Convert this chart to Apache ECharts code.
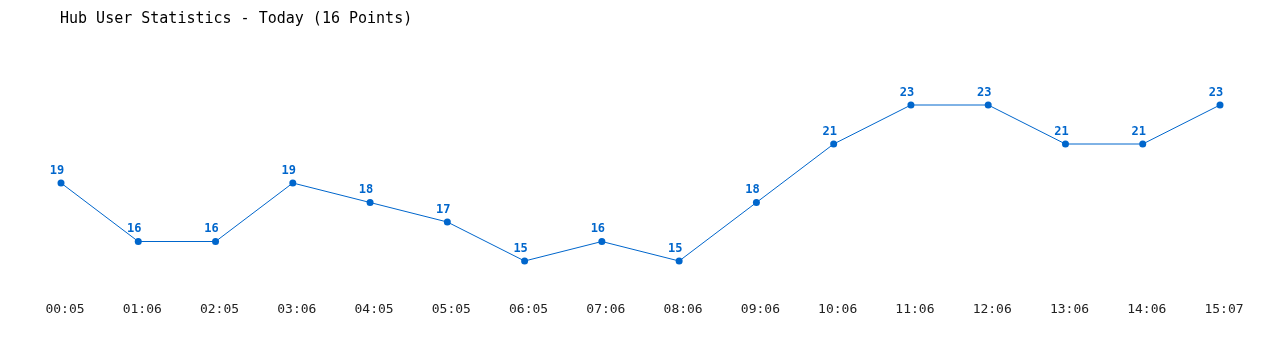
<!DOCTYPE html>
<html><head><meta charset="utf-8">
<script src="https://cdn.jsdelivr.net/npm/echarts@6/dist/echarts.min.js"></script>
<style>html,body{margin:0;padding:0;background:#fff}#c{width:1280px;height:350px}</style>
</head><body><div id="c"></div>
<script>
const titleText = "Hub User Statistics - Today (16 Points)";
const categories = ["00:05","01:06","02:05","03:06","04:05","05:05","06:05","07:06","08:06","09:06","10:06","11:06","12:06","13:06","14:06","15:07"];
const users = [19,16,16,19,18,17,15,16,15,18,21,23,23,21,21,23];

const chart = echarts.init(document.getElementById('c'), null, {renderer:'canvas'});
chart.setOption({
  animation:false,
  backgroundColor:'#ffffff',
  title:{text:titleText,left:55,top:7,textStyle:{fontFamily:'DejaVu Sans Mono',fontSize:15,fontWeight:'normal',color:'#000'}},
  grid:{left:61,right:60,top:66,bottom:50},
  xAxis:{type:'category',data:categories,boundaryGap:false,
    axisLine:{show:false},axisTick:{show:false},splitLine:{show:false},
    axisLabel:{margin:3,padding:[0,0,0,8],fontFamily:'DejaVu Sans Mono',fontSize:13,color:'#222'}},
  yAxis:{type:'value',min:13,max:25,show:false,splitLine:{show:false}},
  series:[{type:'line',data:users,symbol:'circle',symbolSize:7,
    lineStyle:{width:1,color:'#0066cc'},itemStyle:{color:'#0066cc'},
    label:{show:true,position:'top',distance:3,offset:[-4,0],fontFamily:'DejaVu Sans Mono',fontWeight:'bold',fontSize:12,color:'#0066cc'}}]
});
</script></body></html>
